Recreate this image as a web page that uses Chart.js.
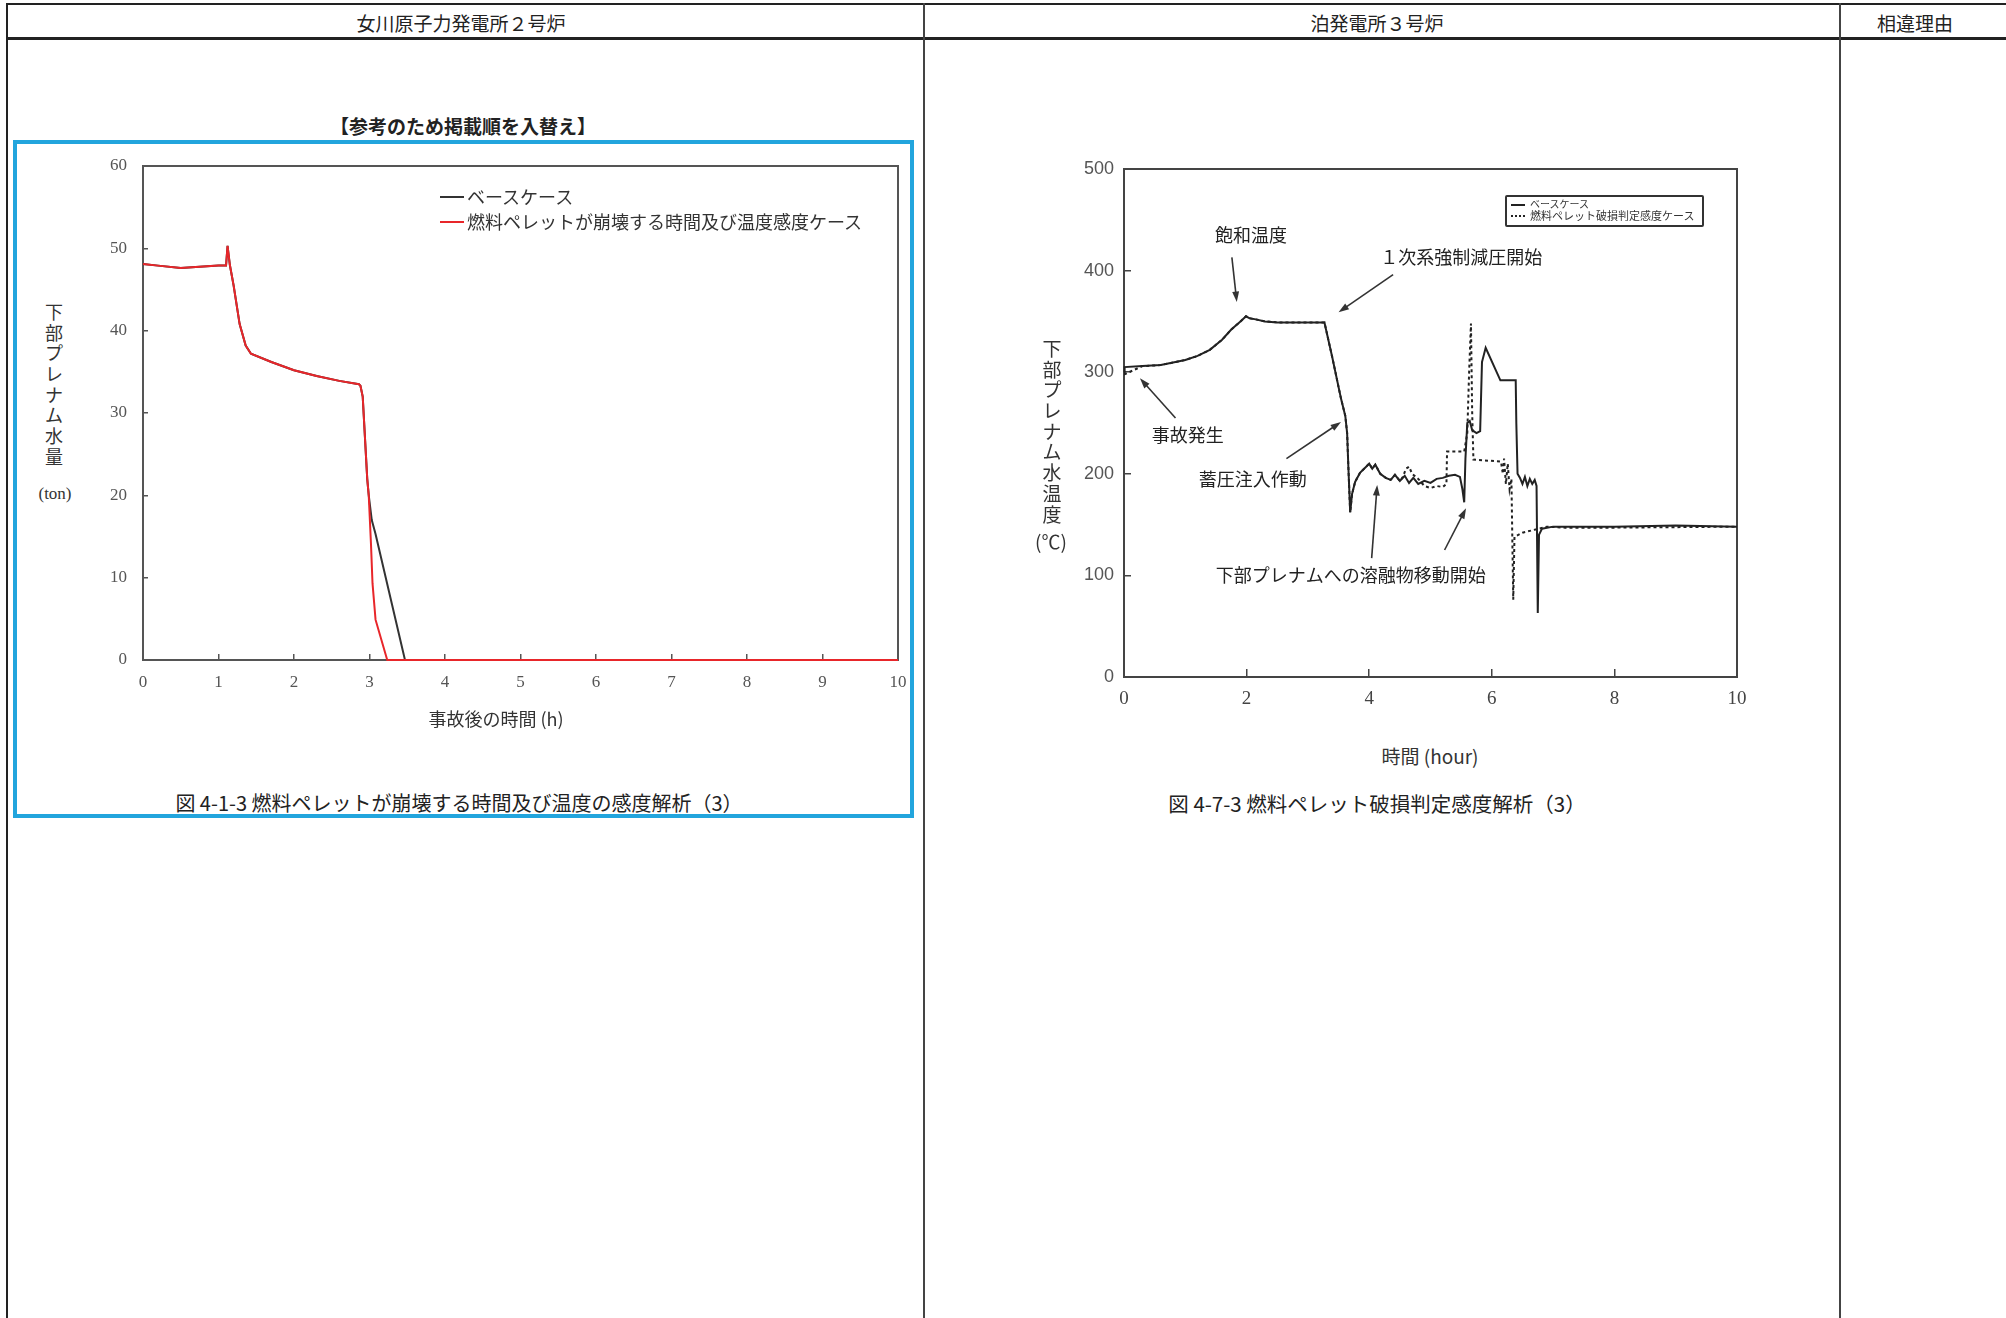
<!DOCTYPE html>
<html lang="ja">
<head>
<meta charset="utf-8">
<script src="https://cdn.jsdelivr.net/npm/chart.js@4.4.1/dist/chart.umd.min.js"></script>
<style>
  html, body { margin:0; padding:0; background:#fff; }
  body { width:2006px; height:1318px; position:relative; overflow:hidden;
         font-family:"Noto Sans CJK JP", "Liberation Serif", sans-serif; color:#222; }
  .ab { position:absolute; }
  .hl { position:absolute; background:#222; }
  .t { position:absolute; white-space:nowrap; transform:translate(-50%,-50%); line-height:1; }
  .vt { position:absolute; transform:translateX(-50%); text-align:center; font-size:18px; color:#333; }
  .vt div { height:20.7px; line-height:20.7px; }
  canvas { position:absolute; }
</style>
</head>
<body>
<!-- table frame -->
<div class="hl" style="left:6px; top:3px; width:2000px; height:2px;"></div>
<div class="hl" style="left:6px; top:37px; width:2000px; height:3px;"></div>
<div class="hl" style="left:6px; top:3px; width:2px; height:1315px;"></div>
<div class="hl" style="left:923px; top:3px; width:1.5px; height:1315px; background:#444;"></div>
<div class="hl" style="left:1839px; top:3px; width:1.5px; height:1315px; background:#444;"></div>

<div class="t" style="left:461px; top:22px; font-size:19px;">女川原子力発電所２号炉</div>
<div class="t" style="left:1377px; top:22px; font-size:19px;">泊発電所３号炉</div>
<div class="t" style="left:1915px; top:22px; font-size:19px;">相違理由</div>

<!-- left panel -->
<div class="t" style="left:463px; top:125px; font-size:19px; font-weight:bold;">【参考のため掲載順を入替え】</div>
<div class="ab" style="left:13px; top:140px; width:893px; height:670px; border:4px solid #22a5dd;"></div>
<canvas id="c1" width="855" height="584" style="left:83px; top:126px;"></canvas>
<div class="vt" style="left:54px; top:301px;">
  <div>下</div><div>部</div><div>プ</div><div>レ</div><div>ナ</div><div>ム</div><div>水</div><div>量</div>
</div>
<div class="t" style="left:55px; top:493px; font-size:17px; font-family:'Liberation Serif','Noto Sans CJK JP'; color:#333;">(ton)</div>
<div class="ab" style="left:440px; top:196px; width:24px; height:2px; background:#333;"></div>
<div class="ab" style="left:467px; top:186px; font-size:18px; line-height:20px; color:#333; white-space:nowrap;">ベースケース</div>
<div class="ab" style="left:440px; top:221px; width:24px; height:2px; background:#e8262a;"></div>
<div class="ab" style="left:467px; top:211px; font-size:18px; line-height:20px; color:#333; white-space:nowrap;">燃料ペレットが崩壊する時間及び温度感度ケース</div>
<div class="t" style="left:496px; top:718px; font-size:18px; color:#333; font-family:'Noto Sans CJK JP';">事故後の時間 (h)</div>
<div class="t" style="left:459px; top:803px; font-size:20px; color:#222;">図 4-1-3 燃料ペレットが崩壊する時間及び温度の感度解析（3）</div>

<!-- right panel -->
<canvas id="c2" width="723" height="598" style="left:1054px; top:129px;"></canvas>
<div class="vt" style="left:1052px; top:338px; font-size:19px;">
  <div>下</div><div>部</div><div>プ</div><div>レ</div><div>ナ</div><div>ム</div><div>水</div><div>温</div><div>度</div>
</div>
<div class="t" style="left:1051px; top:540px; font-size:19px; color:#333;">(℃)</div>
<div class="ab" style="left:1505px; top:195px; width:195px; height:28px; border:2px solid #333; border-radius:2px; background:#fff;"></div>
<div class="ab" style="left:1511px; top:204px; width:14px; height:2px; background:#222;"></div>
<div class="ab" style="left:1530px; top:198px; font-size:10px; line-height:12px; color:#333; white-space:nowrap;">ベースケース</div>
<div class="ab" style="left:1511px; top:215px; width:14px; height:0; border-top:2px dotted #222;"></div>
<div class="ab" style="left:1530px; top:209px; font-size:11px; line-height:12px; color:#333; white-space:nowrap;">燃料ペレット破損判定感度ケース</div>
<div class="t" style="left:1430px; top:755px; font-size:19px; color:#333;">時間 (hour)</div>
<div class="t" style="left:1377px; top:803px; font-size:20.5px; color:#222;">図 4-7-3 燃料ペレット破損判定感度解析（3）</div>

<script>
// ---------- Left chart data (lower plenum water mass, ton) ----------
const leftBaseT = [0, 0.2, 0.5, 0.8, 1.0, 1.1, 1.12, 1.15, 1.2, 1.28, 1.36, 1.43, 1.7, 2.0, 2.3, 2.6, 2.86, 2.88, 2.91, 2.94, 2.97, 2.99, 3.03, 3.08, 3.47, 10];
const leftBaseV = [48.1, 47.9, 47.6, 47.8, 47.9, 47.9, 50.3, 48.0, 45.5, 40.8, 38.2, 37.2, 36.2, 35.2, 34.5, 33.9, 33.5, 33.3, 32.0, 27.0, 22.0, 20.0, 17.0, 15.3, 0, 0];
const leftSensT = [0, 0.2, 0.5, 0.8, 1.0, 1.1, 1.12, 1.15, 1.2, 1.28, 1.36, 1.43, 1.7, 2.0, 2.3, 2.6, 2.86, 2.88, 2.91, 2.94, 2.97, 2.99, 3.02, 3.04, 3.08, 3.235, 10];
const leftSensV = [48.1, 47.9, 47.6, 47.8, 47.9, 47.9, 50.3, 48.0, 45.5, 40.8, 38.2, 37.2, 36.2, 35.2, 34.5, 33.9, 33.5, 33.3, 32.0, 27.0, 22.0, 20.0, 14.0, 9.3, 4.9, 0, 0];
const leftLabels = ['ベースケース', '燃料ペレットが崩壊する時間及び温度感度ケース'];

// ---------- Right chart data (lower plenum water temperature, ℃) ----------
const rightBaseT = [0, 0.01, 0.3, 0.6, 1.0, 1.2, 1.4, 1.6, 1.75, 1.9, 1.99, 2.05, 2.15, 2.3, 2.5, 3.27, 3.40, 3.54, 3.61, 3.64, 3.66, 3.69, 3.72, 3.77, 3.85, 3.95, 4.0, 4.05, 4.1, 4.18, 4.27, 4.35, 4.42, 4.5, 4.58, 4.65, 4.72, 4.8, 4.9, 5.0, 5.1, 5.2, 5.3, 5.4, 5.48, 5.52, 5.55, 5.57, 5.6, 5.64, 5.68, 5.75, 5.81, 5.84, 5.9, 6.14, 6.39, 6.40, 6.42, 6.46, 6.5, 6.54, 6.58, 6.62, 6.66, 6.7, 6.73, 6.75, 6.77, 6.82, 7.0, 8.0, 9.0, 10];
const rightBaseV = [300, 305, 306, 307, 312, 316, 322, 332, 342, 350, 355, 353, 352, 350, 349, 349, 314, 274, 257, 240, 207, 162, 180, 192, 201, 207, 210, 205, 209, 200, 196, 194, 199, 193, 198, 191, 196, 190, 193, 191, 195, 196, 198, 199, 197, 185, 172, 215, 250, 252, 243, 240, 242, 310, 324, 292, 292, 250, 200, 196, 190, 197, 188, 195, 190, 194, 188, 63, 140, 146, 148, 148, 149, 148];
const rightSensT = [0, 0.01, 0.3, 0.6, 1.0, 1.2, 1.4, 1.6, 1.75, 1.9, 1.99, 2.05, 2.15, 2.3, 2.5, 3.27, 3.40, 3.54, 3.61, 3.64, 3.66, 3.69, 3.72, 3.77, 3.85, 3.95, 4.0, 4.05, 4.1, 4.18, 4.27, 4.35, 4.42, 4.5, 4.55, 4.6, 4.65, 4.7, 4.8, 4.9, 5.0, 5.1, 5.2, 5.26, 5.27, 5.55, 5.6, 5.63, 5.66, 5.68, 5.7, 6.15, 6.18, 6.2, 6.23, 6.26, 6.29, 6.32, 6.35, 6.37, 6.5, 6.7, 6.9, 7.2, 8.0, 10];
const rightSensV = [298, 298, 306, 307, 312, 316, 322, 332, 342, 350, 355, 353, 352, 350, 349, 349, 314, 274, 257, 240, 207, 162, 180, 192, 201, 207, 210, 205, 209, 200, 196, 194, 199, 193, 197, 205, 207, 200, 195, 188, 186, 188, 187, 190, 222, 222, 240, 300, 348, 260, 214, 212, 200, 215, 190, 210, 185, 195, 76, 138, 142, 145, 148, 147, 147, 148];
const rightLabels = ['ベースケース', '燃料ペレット破損判定感度ケース'];

// annotations (data coordinates)
const annText = ['飽和温度', '１次系強制減圧開始', '事故発生', '蓄圧注入作動', '下部プレナムへの溶融物移動開始'];
const annT = [2.07, 5.50, 1.04, 2.10, 3.70];
const annV = [435, 413, 238, 195, 100];
const arrowTailT = [1.76, 4.39, 0.84, 2.65, 4.04, 5.23];
const arrowTailV = [413, 396, 255, 215, 117, 125];
const arrowHeadT = [1.84, 3.50, 0.26, 3.54, 4.13, 5.58];
const arrowHeadV = [369, 359, 294, 251, 189, 166];

const pts = (xs, ys) => xs.map((x, i) => ({x: x, y: ys[i]}));

const framePlugin = {
  id: 'frame',
  beforeDatasetsDraw(chart, args, opts) {
    const a = chart.chartArea, ctx = chart.ctx;
    ctx.save();
    ctx.strokeStyle = opts.color || '#555';
    ctx.lineWidth = opts.width || 2;
    ctx.strokeRect(a.left, a.top, a.right - a.left, a.bottom - a.top);
    ctx.restore();
  }
};

const annotPlugin = {
  id: 'annot',
  afterDatasetsDraw(chart) {
    const ctx = chart.ctx, xs = chart.scales.x, ys = chart.scales.y;
    ctx.save();
    ctx.strokeStyle = '#333'; ctx.fillStyle = '#333'; ctx.lineWidth = 1.6;
    for (let i = 0; i < arrowTailT.length; i++) {
      const x1 = xs.getPixelForValue(arrowTailT[i]), y1 = ys.getPixelForValue(arrowTailV[i]);
      const x2 = xs.getPixelForValue(arrowHeadT[i]), y2 = ys.getPixelForValue(arrowHeadV[i]);
      const ang = Math.atan2(y2 - y1, x2 - x1), L = 11, w = 0.32;
      ctx.beginPath(); ctx.moveTo(x1, y1);
      ctx.lineTo(x2 - Math.cos(ang) * L * 0.7, y2 - Math.sin(ang) * L * 0.7); ctx.stroke();
      ctx.beginPath(); ctx.moveTo(x2, y2);
      ctx.lineTo(x2 - L * Math.cos(ang - w), y2 - L * Math.sin(ang - w));
      ctx.lineTo(x2 - L * Math.cos(ang + w), y2 - L * Math.sin(ang + w));
      ctx.closePath(); ctx.fill();
    }
    ctx.font = '18px "Noto Sans CJK JP"';
    ctx.textAlign = 'center'; ctx.textBaseline = 'middle'; ctx.fillStyle = '#222';
    for (let i = 0; i < annText.length; i++) {
      ctx.fillText(annText[i], xs.getPixelForValue(annT[i]), ys.getPixelForValue(annV[i]));
    }
    ctx.restore();
  }
};

const common = {
  responsive: false, animation: false, events: [],
  plugins: { legend: { display: false }, tooltip: { enabled: false } },
  elements: { point: { radius: 0 }, line: { tension: 0 } }
};

new Chart(document.getElementById('c1'), {
  type: 'line',
  data: { datasets: [
    { label: leftLabels[1], data: pts(leftSensT, leftSensV), borderColor: '#e8262a', borderWidth: 2, clip: 4 },
    { label: leftLabels[0], data: pts(leftBaseT, leftBaseV), borderColor: '#333', borderWidth: 2, clip: 4 }
  ]},
  options: Object.assign({}, common, {
    layout: { padding: { left: 0, top: 40, right: 40, bottom: 0 } },
    plugins: Object.assign({}, common.plugins, { frame: { color: '#555', width: 2 } }),
    scales: {
      x: { type: 'linear', min: 0, max: 10,
        ticks: { stepSize: 1, padding: 18, color: '#555', font: { family: 'Liberation Serif', size: 17 } },
        grid: { drawOnChartArea: false, tickLength: -6, color: '#555', lineWidth: 1.5 },
        border: { color: '#555', width: 2 },
        afterFit(s) { s.height = 50; } },
      y: { type: 'linear', min: 0, max: 60,
        ticks: { stepSize: 10, padding: 21, color: '#555', font: { family: 'Liberation Serif', size: 17 } },
        grid: { drawOnChartArea: false, tickLength: -5, color: '#555', lineWidth: 1.5 },
        border: { color: '#555', width: 2 },
        afterFit(s) { s.width = 60; } }
    }
  }),
  plugins: [framePlugin]
});

new Chart(document.getElementById('c2'), {
  type: 'line',
  data: { datasets: [
    { label: rightLabels[0], data: pts(rightBaseT, rightBaseV), borderColor: '#222', borderWidth: 2, clip: 4 },
    { label: rightLabels[1], data: pts(rightSensT, rightSensV), borderColor: '#222', borderWidth: 2, borderDash: [3, 3], clip: 4 }
  ]},
  options: Object.assign({}, common, {
    layout: { padding: { left: 0, top: 40, right: 40, bottom: 0 } },
    plugins: Object.assign({}, common.plugins, { frame: { color: '#444', width: 2 } }),
    scales: {
      x: { type: 'linear', min: 0, max: 10,
        ticks: { stepSize: 2, padding: 19, color: '#444', font: { family: 'Liberation Serif', size: 19 } },
        grid: { drawOnChartArea: false, tickLength: -8, color: '#444', lineWidth: 1.5 },
        border: { color: '#444', width: 2 },
        afterFit(s) { s.height = 50; } },
      y: { type: 'linear', min: 0, max: 500,
        ticks: { stepSize: 100, padding: 17, color: '#555', font: { family: 'Liberation Sans', size: 18 } },
        grid: { drawOnChartArea: false, tickLength: -7, color: '#444', lineWidth: 1.5 },
        border: { color: '#444', width: 2 },
        afterFit(s) { s.width = 70; } }
    }
  }),
  plugins: [framePlugin, annotPlugin]
});
</script>
</body>
</html>
